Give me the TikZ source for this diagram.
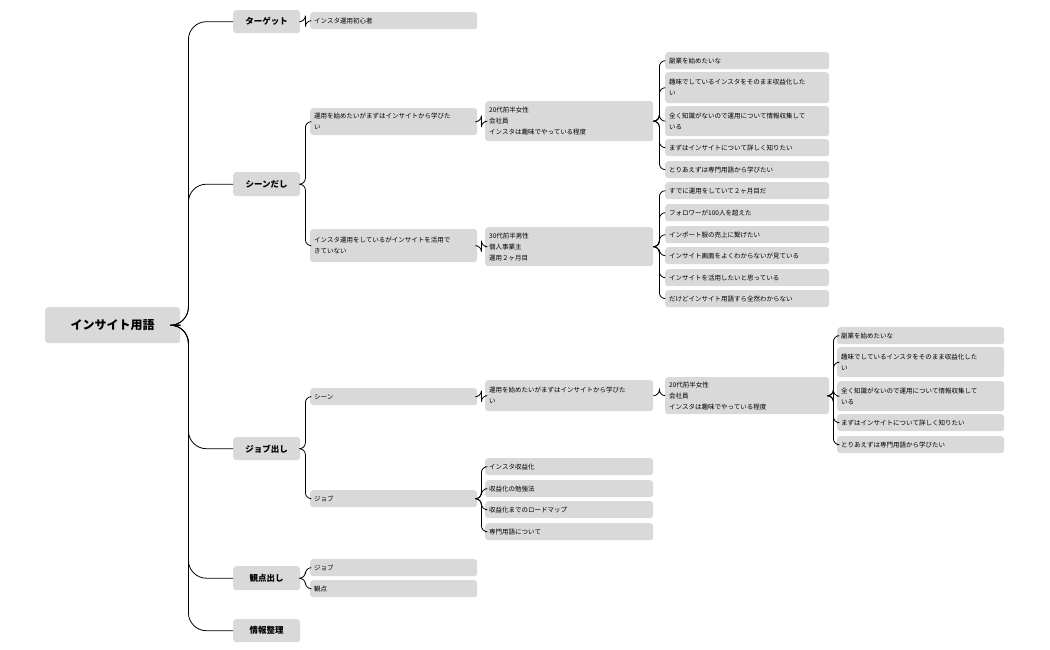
\documentclass[tikz,border=0pt]{standalone}
\usepackage{fontspec}
\setmainfont{Noto Sans CJK JP}
\usetikzlibrary{positioning}
\definecolor{boxgray}{HTML}{D9D9D9}
\tikzset{
	box/.style={fill=boxgray, rounded corners=3pt, inner xsep=4pt, inner ysep=0pt, align=left, anchor=north west, font=\fontsize{6.5}{11}\selectfont},
	head/.style={box, align=center, font=\fontsize{8.5}{10}\selectfont\bfseries},
	link/.style={line width=0.8pt, rounded corners=6pt}
}
% \leaf{name}{x}{y}{width}{height}{text}
\newcommand{\leaf}[6]{%
	\node[box, minimum width=#4, minimum height=#5, text width=#4-8pt] (#1) at (#2,#3) {#6};
}
\newcommand{\topic}[6]{%
	\node[head, minimum width=#4, minimum height=#5, text width=#4-8pt] (#1) at (#2,#3) {#6};
}
\newcommand{\branch}[3]{%
	\draw[link] (#1.east) -- ++(#3,0) |- (#2.west);
}
\begin{document}
\begin{tikzpicture}[x=1pt,y=-1pt]
		\useasboundingbox (0,0) rectangle (1050,650);
		\node[head, minimum width=135, minimum height=36, font=\fontsize{12}{14}\selectfont\bfseries] (root) at (45,307) {インサイト用語};
		\topic{target}{233}{10}{67}{23}{ターゲット}
		\topic{scene}{233}{172}{67}{24}{シーンだし}
		\topic{job}{233}{437}{67}{23}{ジョブ出し}
		\topic{view}{233}{566}{67}{24}{観点出し}
		\topic{info}{233}{619}{67}{23}{情報整理}
		% target
		\leaf{tA}{310}{12}{167}{17}{インスタ運用初心者}
		% scene
		\leaf{sA}{310}{108}{167}{27}{運用を始めたいがまずはインサイトから学びた\\い}
		\leaf{sB}{310}{229}{167}{33}{インスタ運用をしているがインサイトを活用で\\きていない}
		\leaf{pA}{485}{101}{168}{40}{20代前半女性\\会社員\\インスタは趣味でやっている程度}
		\leaf{pB}{485}{227}{168}{39}{30代前半男性\\個人事業主\\運用２ヶ月目}
		\leaf{a1}{665}{52}{164}{17}{副業を始めたいな}
		\leaf{a2}{665}{72}{164}{31}{趣味でしているインスタをそのまま収益化した\\い}
		\leaf{a3}{665}{106}{164}{30}{全く知識がないので運用について情報収集して\\いる}
		\leaf{a4}{665}{139}{164}{17}{まずはインサイトについて詳しく知りたい}
		\leaf{a5}{665}{161}{164}{17}{とりあえずは専門用語から学びたい}
		\leaf{b1}{665}{182}{164}{17}{すでに運用をしていて２ヶ月目だ}
		\leaf{b2}{665}{204}{164}{17}{フォロワーが100人を超えた}
		\leaf{b3}{665}{226}{164}{17}{インポート服の売上に繋げたい}
		\leaf{b4}{665}{247}{164}{17}{インサイト画面をよくわからないが見ている}
		\leaf{b5}{665}{269}{164}{17}{インサイトを活用したいと思っている}
		\leaf{b6}{665}{290}{164}{17}{だけどインサイト用語すら全然わからない}
		% job
		\leaf{jA}{310}{388}{167}{17}{シーン}
		\leaf{jB}{310}{490}{167}{17}{ジョブ}
		\leaf{jS}{485}{380}{168}{31}{運用を始めたいがまずはインサイトから学びた\\い}
		\leaf{jP}{665}{377}{164}{37}{20代前半女性\\会社員\\インスタは趣味でやっている程度}
		\leaf{c1}{837}{327}{167}{17}{副業を始めたいな}
		\leaf{c2}{837}{347}{167}{30}{趣味でしているインスタをそのまま収益化した\\い}
		\leaf{c3}{837}{381}{167}{30}{全く知識がないので運用について情報収集して\\いる}
		\leaf{c4}{837}{414}{167}{17}{まずはインサイトについて詳しく知りたい}
		\leaf{c5}{837}{436}{167}{17}{とりあえずは専門用語から学びたい}
		\leaf{d1}{485}{458}{168}{17}{インスタ収益化}
		\leaf{d2}{485}{480}{168}{17}{収益化の勉強法}
		\leaf{d3}{485}{501}{168}{17}{収益化までのロードマップ}
		\leaf{d4}{485}{523}{168}{17}{専門用語について}
		% view
		\leaf{vA}{310}{559}{167}{17}{ジョブ}
		\leaf{vB}{310}{580}{167}{17}{観点}
		% connectors
		\foreach \n in {target,scene,job,view,info} {\draw[link, rounded corners=18pt] (root.east) -- ++(8,0) |- (\n.west);}
		\branch{target}{tA}{5}
		\foreach \n in {sA,sB} {\branch{scene}{\n}{5}}
		\branch{sA}{pA}{4}
		\branch{sB}{pB}{4}
		\foreach \n in {a1,a2,a3,a4,a5} {\branch{pA}{\n}{6}}
		\foreach \n in {b1,b2,b3,b4,b5,b6} {\branch{pB}{\n}{6}}
		\foreach \n in {jA,jB} {\branch{job}{\n}{5}}
		\branch{jA}{jS}{4}
		\branch{jS}{jP}{6}
		\foreach \n in {c1,c2,c3,c4,c5} {\branch{jP}{\n}{4}}
		\foreach \n in {d1,d2,d3,d4} {\branch{jB}{\n}{4}}
		\foreach \n in {vA,vB} {\branch{view}{\n}{5}}
	\end{tikzpicture}
\end{document}
